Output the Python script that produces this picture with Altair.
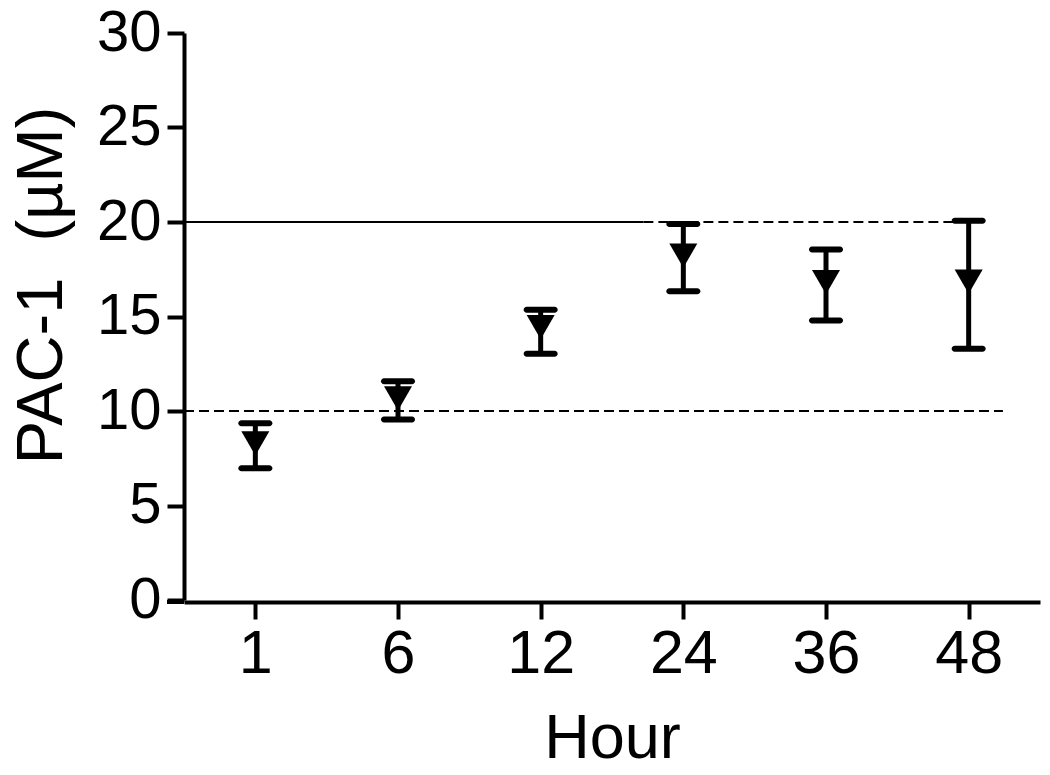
import altair as alt
import pandas as pd

hours = ["1", "6", "12", "24", "36", "48"]
means = [8.29, 10.67, 14.44, 18.22, 16.82, 16.85]
upper = [9.35, 11.57, 15.36, 19.90, 18.54, 20.07]
lower = [6.97, 9.55, 13.03, 16.34, 14.79, 13.30]

# reference lines: (value, start position, end position, dashed)
ref_y = [20, 20, 10]
ref_x1 = [0.5, 3.72, 0.5]
ref_x2 = [3.72, 6.08, 6.24]
ref_dash = ["solid", "dash", "dash"]

idx = list(range(1, len(hours) + 1))
df = pd.DataFrame({"idx": idx, "hour": hours, "mean": means, "hi": upper, "lo": lower})
ref = pd.DataFrame({"y": ref_y, "x1": ref_x1, "x2": ref_x2, "style": ref_dash})

FONT = "Liberation Sans"
label_expr = "[" + ",".join(f"'{h}'" for h in hours) + "][datum.value - 1]"

W, H = 856, 567

xscale = alt.Scale(domain=[0.5, 6.5], nice=False, zero=False)
yscale = alt.Scale(domain=[0, 30], nice=False)

x_axis = alt.Axis(
    title="Hour", values=idx, labelExpr=label_expr, grid=False,
    domainWidth=4, domainColor="black", tickWidth=4, tickSize=17, tickColor="black",
    labelFontSize=61, labelFont=FONT, labelColor="black", labelPadding=5,
    titleFontSize=63, titleFont=FONT, titleFontWeight="normal", titleColor="black",
    titlePadding=23, offset=2,
)
y_axis = alt.Axis(
    title="PAC-1\u00a0\u00a0(µM)", values=[0, 5, 10, 15, 20, 25, 30], grid=False,
    domainWidth=4, domainColor="black", tickWidth=4, tickSize=17, tickColor="black",
    labelFontSize=58, labelFont=FONT, labelColor="black", labelPadding=6,
    titleFontSize=65, titleFont=FONT, titleFontWeight="normal", titleColor="black",
    titleX=-109, titleY=252,
)

base = alt.Chart(df)

points = base.mark_point(shape="triangle-down", size=784, filled=True, color="black", opacity=1).encode(
    x=alt.X("idx:Q", scale=xscale, axis=x_axis),
    y=alt.Y("mean:Q", scale=yscale, axis=y_axis),
)

bars = base.mark_rule(color="black", strokeWidth=5).encode(
    x=alt.X("idx:Q", scale=xscale),
    y=alt.Y("lo:Q", scale=yscale),
    y2="hi:Q",
)

cap_hi = base.mark_tick(color="black", orient="horizontal", size=34, thickness=6, cornerRadius=3, opacity=1).encode(
    x=alt.X("idx:Q", scale=xscale),
    y=alt.Y("hi:Q", scale=yscale),
)
cap_lo = base.mark_tick(color="black", orient="horizontal", size=34, thickness=6, cornerRadius=3, opacity=1).encode(
    x=alt.X("idx:Q", scale=xscale),
    y=alt.Y("lo:Q", scale=yscale),
)

solid = alt.Chart(ref).transform_filter("datum.style == 'solid'").mark_rule(color="black", strokeWidth=2).encode(
    x=alt.X("x1:Q", scale=xscale), x2="x2:Q", y=alt.Y("y:Q", scale=yscale)
)
dashed = alt.Chart(ref).transform_filter("datum.style == 'dash'").mark_rule(color="black", strokeWidth=2, strokeDash=[10, 5]).encode(
    x=alt.X("x1:Q", scale=xscale), x2="x2:Q", y=alt.Y("y:Q", scale=yscale)
)

# short extension of the x axis line to the left of the y axis
stub = alt.Chart(df).mark_rule(color="black", strokeWidth=4, clip=False).encode(
    x=alt.value(-17), x2=alt.value(0), y=alt.value(H + 2)
)

chart = alt.layer(solid, dashed, bars, cap_hi, cap_lo, points, stub).properties(
    width=W, height=H,
    background="white",
    autosize=alt.AutoSizeParams(type="none"),
    padding={"left": 176, "top": 25, "right": 2, "bottom": 167},
).configure_view(stroke=None, strokeWidth=0)

chart.save("out.html", embed_options={"renderer": "svg", "actions": False})
